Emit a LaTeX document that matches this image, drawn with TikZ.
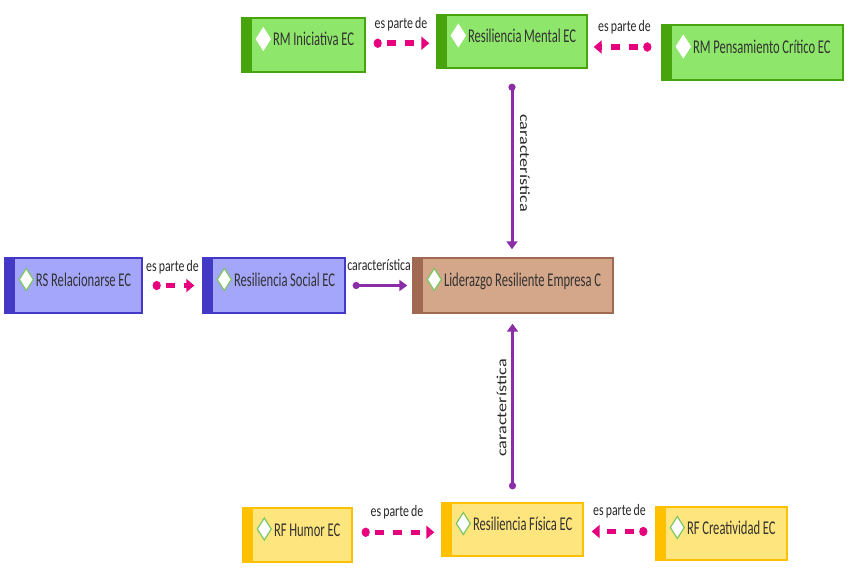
\documentclass[tikz,border=0pt]{standalone}
\usepackage{fontspec}
\setmainfont{Carlito}
\newfontfamily\boxfont{Carlito}[FakeStretch=0.645,WordSpace=0.95]
\newfontfamily\lblfont{Carlito}[FakeStretch=0.74,WordSpace=0.8]
\newfontfamily\vfont{Carlito}[FakeStretch=1.3]
\usetikzlibrary{arrows.meta,calc}
\definecolor{gfill}{HTML}{8EE66A}
\definecolor{gdark}{HTML}{47A40C}
\definecolor{bfill}{HTML}{A3A6FB}
\definecolor{bdark}{HTML}{4438C6}
\definecolor{brfill}{HTML}{D4A78A}
\definecolor{brdark}{HTML}{A06A52}
\definecolor{yfill}{HTML}{FFE57D}
\definecolor{ydark}{HTML}{FFC000}
\definecolor{pinkc}{HTML}{E6007E}
\definecolor{purp}{HTML}{8B2DA6}
\definecolor{txt}{HTML}{333333}
\definecolor{diagreen}{HTML}{7CC860}
\newcommand\boxtext[2]{\makebox[#1][l]{\hspace*{31pt}#2}}
\begin{document}
\begin{tikzpicture}[x=1pt,y=-1pt,
  ebox/.style={rectangle, line width=1.4pt, inner xsep=0pt, inner ysep=0pt,
    minimum height=#1, text height=10pt, text depth=8pt,
    font=\boxfont\fontsize{19.5}{21}\selectfont, text=txt},
  stripefill/.style={path picture={\fill[#1] (path picture bounding box.north west) rectangle ([xshift=10pt]path picture bounding box.south west);}},
  gbox/.style={draw=gdark, fill=gfill, stripefill=gdark},
  bbox/.style={draw=bdark, fill=bfill, stripefill=bdark},
  brbox/.style={draw=brdark, fill=brfill, stripefill=brdark},
  ybox/.style={draw=ydark, fill=yfill, stripefill=ydark},
  pk/.style={draw=pinkc, line width=5.5pt, dash pattern=on 9pt off 9pt, dash phase=11pt,
    {Circle[length=8pt,width=9pt]}-{Triangle[length=8pt,width=13pt]}},
  pu/.style={draw=purp, line width=3pt,
    {Circle[length=7pt,width=7pt]}-{Triangle[length=8pt,width=11pt]}},
  elabel/.style={font=\lblfont\fontsize{16}{18}\selectfont, text=black!85, inner sep=0pt},
  vlabel/.style={font=\vfont\fontsize{14}{16}\selectfont, text=black!85, inner sep=0pt},
  dia/.style={fill=white, draw=#1, line width=1.2pt, line join=miter}
]
\useasboundingbox (0,0) rectangle (850,575);

% boxes
\node[ebox=54pt, gbox] (ini) at (303.5,45) {\boxtext{123pt}{RM Iniciativa EC}};
\node[ebox=53pt, gbox] (ment) at (512,41.5) {\boxtext{150pt}{Resiliencia Mental EC}};
\node[ebox=55pt, gbox] (pens) at (752.5,52.5) {\boxtext{181pt}{RM Pensamiento Crítico EC}};
\node[ebox=55pt, bbox] (rs) at (73.5,285.5) {\boxtext{137pt}{RS Relacionarse EC}};
\node[ebox=55pt, bbox] (soc) at (274,285.5) {\boxtext{142pt}{Resiliencia Social EC}};
\node[ebox=55pt, brbox] (lid) at (513,285.5) {\boxtext{200pt}{Liderazgo Resiliente Empresa C}};
\node[ebox=54pt, ybox] (hum) at (297.5,535) {\boxtext{109pt}{RF Humor EC}};
\node[ebox=53pt, ybox] (fis) at (512.5,529.5) {\boxtext{141pt}{Resiliencia Física EC}};
\node[ebox=53pt, ybox] (cre) at (721.5,533.5) {\boxtext{131pt}{RF Creatividad EC}};

% diamonds
\foreach \n in {ini,ment,pens}
  \draw[dia=white] ([xshift=22pt,yshift=6pt]\n.west) ++(0pt,11pt) -- ++(7pt,-11pt) -- ++(-7pt,-11pt) -- ++(-7pt,11pt) -- cycle;
\foreach \n in {rs,soc,lid,hum,fis,cre}
  \draw[dia=diagreen] ([xshift=22pt,yshift=6pt]\n.west) ++(0pt,11pt) -- ++(7pt,-11pt) -- ++(-7pt,-11pt) -- ++(-7pt,11pt) -- cycle;

% es parte de connectors
\coordinate (m1) at ($(ini.east)!0.5!(ment.west)$);
\draw[pk, shorten <=8pt, shorten >=7pt] (ini.east |- m1) -- (ment.west |- m1)
  node[midway, yshift=19pt, elabel] {es parte de};
\coordinate (m2) at ($(pens.west)!0.5!(ment.east)$);
\draw[pk, shorten <=10pt, shorten >=6pt] (pens.west |- m2) -- (ment.east |- m2)
  node[midway, yshift=20pt, elabel] {es parte de};
\coordinate (m3) at ($(rs.east)!0.5!(soc.west)$);
\draw[pk, shorten <=10pt, shorten >=8pt] (rs.east |- m3) -- (soc.west |- m3)
  node[midway, yshift=18pt, elabel] {es parte de};
\coordinate (m4) at ($(hum.east)!0.5!(fis.west)$);
\draw[pk, shorten <=9pt, shorten >=7pt] (hum.east |- m4) -- (fis.west |- m4)
  node[midway, yshift=20pt, elabel] {es parte de};
\coordinate (m5) at ($(cre.west)!0.5!(fis.east)$);
\draw[pk, shorten <=8pt, shorten >=8pt] (cre.west |- m5) -- (fis.east |- m5)
  node[midway, yshift=20pt, elabel] {es parte de};

% característica connectors
\draw[pu, shorten <=7pt, shorten >=5pt] (soc.east) -- (lid.west)
  node[midway, yshift=20pt, elabel] {característica};
\draw[pu, shorten <=15pt, shorten >=8pt] (ment.south) -- (ment.south |- lid.north)
  node[midway, xshift=13pt, rotate=-90, vlabel] {característica};
\draw[pu, shorten <=13pt, shorten >=10pt] (fis.north) -- (fis.north |- lid.south)
  node[midway, xshift=-11pt, rotate=90, vlabel] {característica};
\end{tikzpicture}
\end{document}
